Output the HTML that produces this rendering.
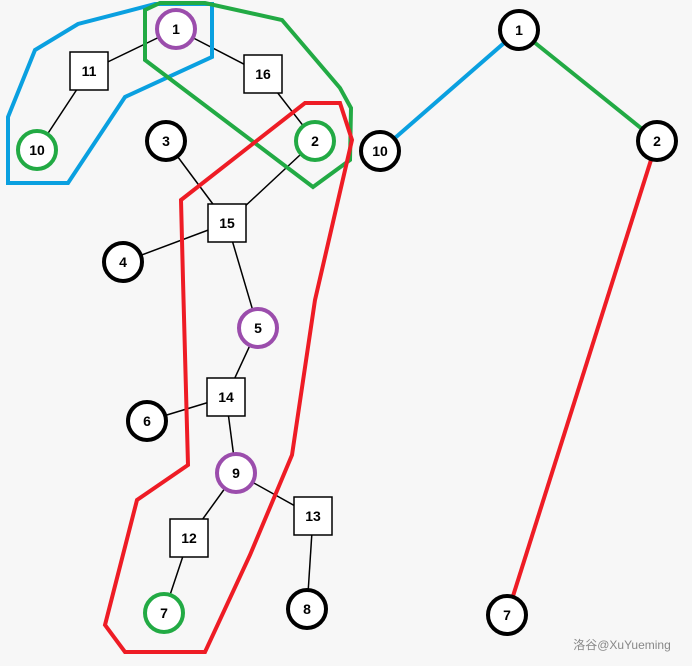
<!DOCTYPE html>
<html><head><style>body{margin:0;background:#f7f7f7}svg{display:block}text{font-family:"Liberation Sans",sans-serif;font-weight:bold;font-size:14px;text-anchor:middle;dominant-baseline:central}</style></head><body>
<svg width="692" height="666" viewBox="0 0 692 666">
<rect width="692" height="666" fill="#f7f7f7"/>
<g stroke="#000" stroke-width="1.5">
<line x1="176" y1="29" x2="89" y2="71"/><line x1="176" y1="29" x2="263" y2="74"/>
<line x1="89" y1="71" x2="37" y2="150"/><line x1="263" y1="74" x2="315" y2="141"/>
<line x1="315" y1="141" x2="227" y2="223"/><line x1="166" y1="141" x2="227" y2="223"/>
<line x1="123" y1="262" x2="227" y2="223"/><line x1="227" y1="223" x2="258" y2="328"/>
<line x1="258" y1="328" x2="226" y2="397"/><line x1="147" y1="421" x2="226" y2="397"/>
<line x1="226" y1="397" x2="236" y2="473"/><line x1="236" y1="473" x2="189" y2="538"/>
<line x1="236" y1="473" x2="313" y2="516"/><line x1="189" y1="538" x2="164" y2="613"/>
<line x1="313" y1="516" x2="307" y2="609"/>
</g>
<line x1="519" y1="30" x2="380" y2="151" stroke="#0aa0e0" stroke-width="4"/>
<line x1="519" y1="30" x2="657" y2="141" stroke="#22aa44" stroke-width="4"/>
<line x1="657" y1="141" x2="507" y2="615" stroke="#ee1c25" stroke-width="4"/>
<g fill="none" stroke-width="4">
<polygon stroke="#0aa0e0" points="8,183 68,183 125,97 212,57 212,4 155,4 78,24 35,50 8,117"/>
<polygon stroke="#22aa44" points="145,10 160,3 205,3 282,20 340,88 351,108 350,160 313,187 145,60"/>
<polygon stroke="#ee1c25" points="181,200 305,103 340,103 352,140 315,300 292,455 250,555 205,652 125,652 105,625 137,500 188,465 183,280"/>
</g>
<g fill="#fff" stroke-width="4">
<circle cx="176" cy="29" r="19" stroke="#9b4dac"/><circle cx="37" cy="150" r="19" stroke="#22aa44"/>
<circle cx="315" cy="141" r="19" stroke="#22aa44"/><circle cx="166" cy="141" r="19" stroke="#000"/>
<circle cx="123" cy="262" r="19" stroke="#000"/><circle cx="258" cy="328" r="19" stroke="#9b4dac"/>
<circle cx="147" cy="421" r="19" stroke="#000"/><circle cx="236" cy="473" r="19" stroke="#9b4dac"/>
<circle cx="164" cy="613" r="19" stroke="#22aa44"/><circle cx="307" cy="609" r="19" stroke="#000"/>
<circle cx="519" cy="30" r="19" stroke="#000"/><circle cx="380" cy="151" r="19" stroke="#000"/>
<circle cx="657" cy="141" r="19" stroke="#000"/><circle cx="507" cy="615" r="19" stroke="#000"/>
</g>
<g fill="#fff" stroke="#000" stroke-width="1.5">
<rect x="70" y="52" width="38" height="38"/><rect x="244" y="55" width="38" height="38"/>
<rect x="208" y="204" width="38" height="38"/><rect x="207" y="378" width="38" height="38"/>
<rect x="170" y="519" width="38" height="38"/><rect x="294" y="497" width="38" height="38"/>
</g>
<text x="176" y="29">1</text><text x="89" y="71">11</text><text x="263" y="74">16</text>
<text x="37" y="150">10</text><text x="315" y="141">2</text><text x="166" y="141">3</text>
<text x="227" y="223">15</text><text x="123" y="262">4</text><text x="258" y="328">5</text>
<text x="226" y="397">14</text><text x="147" y="421">6</text><text x="236" y="473">9</text>
<text x="189" y="538">12</text><text x="313" y="516">13</text><text x="164" y="613">7</text>
<text x="307" y="609">8</text><text x="519" y="30">1</text><text x="380" y="151">10</text>
<text x="657" y="141">2</text><text x="507" y="615">7</text>
<text x="622" y="645" style="font-weight:normal;font-size:12px;fill:#888;font-family:'Liberation Sans','Noto Sans CJK SC',sans-serif">洛谷@XuYueming</text>
</svg></body></html>
